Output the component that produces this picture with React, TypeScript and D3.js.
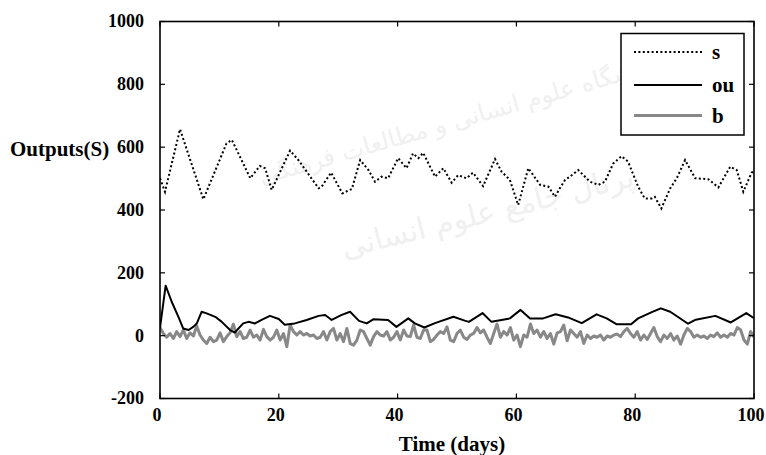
import React from 'react';
import * as d3 from 'd3';

// ---- data ----
const sTime = [0, 0.84, 3.37, 7.3, 11.2, 12.1, 15.2, 16.8, 17.7, 18.8, 21.9, 23.3, 26.7, 27.2, 28.8, 30.7, 32.3, 33.7, 35.1, 36.2, 37.3, 38.4, 40.1, 41.5, 42.6, 43.5, 44.3, 46.3, 47.7, 49.1, 50.2, 51.6, 52.7, 54.4, 56.4, 57.5, 58.9, 60.3, 62.0, 64.0, 65.4, 66.5, 67.3, 68.2, 69.0, 70.4, 72.4, 73.8, 74.9, 76.3, 77.7, 78.8, 80.5, 81.6, 82.8, 83.3, 84.4, 85.9, 87.0, 88.4, 90.1, 92.3, 94.0, 96.0, 97.1, 98.2, 99.6, 100];
const sValues = [501, 458, 657, 434, 612, 623, 501, 540, 533, 464, 589, 559, 469, 474, 519, 453, 467, 559, 527, 490, 506, 501, 565, 533, 580, 565, 582, 506, 533, 487, 511, 501, 519, 476, 562, 522, 496, 416, 533, 480, 474, 442, 469, 496, 506, 527, 490, 480, 490, 548, 571, 554, 474, 437, 437, 442, 405, 469, 501, 559, 501, 498, 472, 538, 527, 458, 519, 522];

const ouTime = [0, 0.95, 1.97, 3.1, 3.9, 4.8, 5.6, 6.2, 7.0, 7.85, 9.3, 10.4, 11.8, 12.6, 14.0, 14.9, 16.0, 17.1, 18.5, 20.0, 21.0, 22.7, 24.7, 26.7, 27.8, 28.9, 30.6, 32.0, 33.5, 34.8, 35.9, 38.4, 39.8, 41.8, 42.9, 44.5, 46.3, 49.4, 51.3, 52.0, 54.3, 55.8, 57.5, 58.9, 60.7, 62.3, 64.5, 66.6, 68.7, 71.0, 73.5, 75.2, 76.9, 79.3, 80.5, 82.7, 84.3, 85.9, 88.9, 90.2, 93.5, 96.1, 98.7, 100];
const ouValues = [25, 159, 108, 60, 23, 18, 28, 39, 76, 71, 60, 44, 18, 10, 39, 44, 39, 50, 63, 53, 35, 39, 50, 63, 66, 50, 66, 76, 47, 39, 52, 50, 28, 55, 39, 26, 40, 60, 48, 44, 72, 44, 50, 55, 82, 55, 55, 68, 58, 40, 68, 55, 36, 36, 55, 74, 87, 76, 38, 51, 63, 42, 72, 56];

// b sampled uniformly over 0..100 days
const bValues = [
  26, 7, -5, 7, -9, 13, -3, 18, -9, 9, -1, 31, 2, -14, -25, -5, -19, -14, 9, -19,
  -3, 9, 37, -3, 13, -9, -5, 18, -5, 2, -14, 20, -3, -14, -5, 18, -14, 7, -35, 34,
  13, 2, 13, 2, 7, -1, 2, -9, -5, 13, -14, 13, 23, -14, 7, -19, 23, -25, -30, -14,
  18, 13, -9, -30, -3, 13, 2, -1, 13, -14, -5, 13, -14, 18, -1, -3, 34, -5, -9, 18,
  18, -19, -12, 2, 13, 7, 28, -14, -19, 7, 18,
  -5, -12, 2, 7, 26, 9, 18, -5, -25, 7, 37, -5, 13, 2, 26, -14, 2, -35, 2, -5,
  37, 7, 18, -5, 13, -9, 7, -27, 9, 13, 34, -16, 18, 7, -5, 13, -25, 2, -9, -1,
  -5, 2, -14, -1, -5, 2, 5, -3, 13, 23, 7, -5, 13, -14, 2, -12, 7, 26, -3, -19,
  2, -9, 7, -14, -1, -27, 2, 23, 13, -5, 2, -5, -1, -9, 2, -3, 9, -5, 2, -5,
  7, 2, 26, 18, -14, -27, 13, -5
];

const xTicks = [0, 20, 40, 60, 80, 100];
const yTicks = [-200, 0, 200, 400, 600, 800, 1000];
const legendNames = ['s', 'ou', 'b'];

const FONT = "'Liberation Serif', 'Times New Roman', serif";

export default function App() {
  const W = 766, H = 455;
  const left = 160, right = 754, top = 21.5, bottom = 398.5;
  const x = d3.scaleLinear().domain([0, 100]).range([left, right]);
  const y = d3.scaleLinear().domain([-200, 1000]).range([bottom, top]);

  const bTime = bValues.map((_, i) => (i * 100) / (bValues.length - 1));

  const line = d3.line<[number, number]>().x(d => x(d[0])).y(d => y(d[1]));
  const sPath = line(sTime.map((t, i) => [t, sValues[i]]) as [number, number][]) || '';
  const ouPath = line(ouTime.map((t, i) => [t, ouValues[i]]) as [number, number][]) || '';
  const bPath = line(bTime.map((t, i) => [t, bValues[i]]) as [number, number][]) || '';

  const tickLen = 5;
  const legendStyles = [
    { stroke: '#000', width: 2, dash: '2 2.4' },
    { stroke: '#000', width: 2, dash: undefined },
    { stroke: '#888', width: 3, dash: undefined },
  ];

  return (
    <svg width={W} height={H} style={{ position: 'absolute', left: 0, top: 0, background: '#fff' }}
      fontFamily={FONT} fontWeight="bold">
      <defs>
        <clipPath id="plotClip">
          <rect x={left} y={top} width={right - left} height={bottom - top} />
        </clipPath>
      </defs>
      <rect x={0} y={0} width={W} height={H} fill="#fff" />

      {/* faint watermark */}
      <g fill="#f0f0f0" fontFamily="'DejaVu Sans', sans-serif" fontWeight="normal">
        <text x={470} y={125} fontSize={24} textAnchor="middle" transform="rotate(-16 470 125)">پژوهشگاه علوم انسانی و مطالعات فرهنگی</text>
        <text x={490} y={222} fontSize={30} textAnchor="middle" transform="rotate(-14 490 222)">پرتال جامع علوم انسانی</text>
      </g>

      {/* series */}
      <g clipPath="url(#plotClip)" fill="none">
        <path d={bPath} stroke="#888" strokeWidth={3} strokeLinejoin="round" />
        <path d={ouPath} stroke="#000" strokeWidth={2} strokeLinejoin="round" />
        <path d={sPath} stroke="#000" strokeWidth={2} strokeDasharray="2 2.4" />
      </g>

      {/* frame */}
      <rect x={left} y={top} width={right - left} height={bottom - top} fill="none" stroke="#000" strokeWidth={1.6} />

      {/* ticks */}
      <g stroke="#000" strokeWidth={1.2}>
        {xTicks.map(t => (
          <g key={'xt' + t}>
            <line x1={x(t)} x2={x(t)} y1={bottom} y2={bottom - tickLen} />
            <line x1={x(t)} x2={x(t)} y1={top} y2={top + tickLen} />
          </g>
        ))}
        {yTicks.map(t => (
          <g key={'yt' + t}>
            <line x1={left} x2={left + tickLen} y1={y(t)} y2={y(t)} />
            <line x1={right} x2={right - tickLen} y1={y(t)} y2={y(t)} />
          </g>
        ))}
      </g>

      {/* tick labels */}
      <g fontSize={18} fill="#000">
        {xTicks.map(t => (
          <text key={'xl' + t} x={x(t) - 3} y={420.5} textAnchor="middle">{t}</text>
        ))}
        {yTicks.map(t => (
          <text key={'yl' + t} x={144} y={y(t)} dy="0.33em" textAnchor="end">{t}</text>
        ))}
      </g>

      {/* axis titles */}
      <text x={452} y={451} fontSize={21} textAnchor="middle" fill="#000">Time (days)</text>
      <text x={10} y={156} fontSize={21} textAnchor="start" fill="#000">Outputs(S)</text>

      {/* legend */}
      <rect x={621} y={33.5} width={123} height={101.5} fill="#fff" stroke="#000" strokeWidth={1.5} />
      {legendNames.map((name, i) => {
        const ly = [52, 85, 115.5][i];
        const st = legendStyles[i];
        return (
          <g key={name}>
            <line x1={634} x2={702} y1={ly} y2={ly} stroke={st.stroke} strokeWidth={st.width} strokeDasharray={st.dash} />
            <text x={712} y={ly + 7} fontSize={21} fill="#000">{name}</text>
          </g>
        );
      })}
    </svg>
  );
}
